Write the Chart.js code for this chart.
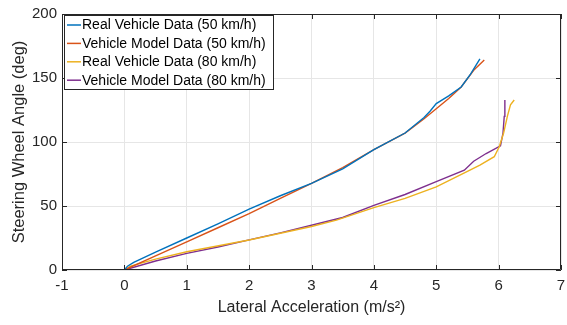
<!DOCTYPE html>
<html><head><meta charset="utf-8">
<script src="https://cdn.jsdelivr.net/npm/chart.js@4/dist/chart.umd.min.js"></script>
<style>html,body{margin:0;padding:0;background:#fff}#wrap{width:567px;height:325px}</style>
</head><body><div id="wrap"><canvas id="c" width="567" height="325"></canvas></div>
<script>
const seriesNames = ["Real Vehicle Data (50 km/h)","Vehicle Model Data (50 km/h)","Real Vehicle Data (80 km/h)","Vehicle Model Data (80 km/h)"];
const seriesColors = ["#0072BD","#D95319","#EDB120","#7E2F8E"];
const real50X = [0,0.05,0.15,0.5,1,1.5,2,2.5,3,3.5,4,4.5,4.8,4.9,5.0,5.2,5.4,5.55,5.7];
const real50Y = [0,3,6,14,25,36,47.5,58,67.7,79,94,107,119,124,130,136,143,153,165];
const model50X = [0,0.5,1,1.5,2,2.5,3,3.5,4,4.5,4.8,5.0,5.2,5.4,5.6,5.77];
const model50Y = [0,11,22,33,44,56,67.7,80,94,107,118,126,134,143,156,164];
const real80X = [0,0.1,0.5,1,2,3,3.4,4,4.5,5,5.5,5.7,5.93,6.01,6.08,6.14,6.19,6.25];
const real80Y = [0,3,8.5,14.3,23.4,34,39,48.7,56,65,77,82,88.5,96.3,107,120,129,132.8];
const model80X = [0,0.5,1,1.5,2,2.5,3,3.5,4,4.5,5,5.45,5.6,5.8,6.03,6.07,6.09,6.1];
const model80Y = [0,7,13,18,23.5,29,35,41,50.5,59,69,78,85,91,97,107,120,132.8];
const xTicks = [-1,0,1,2,3,4,5,6,7];
const yTicks = [0,50,100,150,200];
const xTitle = "Lateral Acceleration (m/s²)";
const yTitle = "Steering Wheel Angle (deg)";

const pts = (xs, ys) => xs.map((x, i) => ({x, y: ys[i]}));
const allX = [real50X, model50X, real80X, model80X];
const allY = [real50Y, model50Y, real80Y, model80Y];
const datasets = seriesNames.map((n, i) => ({
  label: n, data: pts(allX[i], allY[i]), borderColor: seriesColors[i], backgroundColor: seriesColors[i],
  borderWidth: 1.4, pointRadius: 0, showLine: true, tension: 0, fill: false
}));

const FONT = "'Liberation Sans', Arial, sans-serif";
const AX = "#262626";

const boxPlugin = {
  id: 'box',
  afterDatasetsDraw(chart) {
    const {ctx, chartArea: a, scales} = chart;
    ctx.save();
    ctx.strokeStyle = AX; ctx.lineWidth = 1;
    ctx.beginPath();
    ctx.rect(a.left + 0.5, a.top + 0.5, a.right - a.left - 1, a.bottom - a.top - 1);
    ctx.stroke();
    const tl = 5;
    ctx.beginPath();
    xTicks.forEach(v => { const px = Math.round(scales.x.getPixelForValue(v)) + 0.5;
      ctx.moveTo(px, a.bottom); ctx.lineTo(px, a.bottom - tl);
      ctx.moveTo(px, a.top); ctx.lineTo(px, a.top + tl); });
    yTicks.forEach(v => { const py = Math.round(scales.y.getPixelForValue(v)) + 0.5;
      ctx.moveTo(a.left, py); ctx.lineTo(a.left + tl, py);
      ctx.moveTo(a.right, py); ctx.lineTo(a.right - tl, py); });
    ctx.stroke();
    // legend
    const lx = a.left + 2, ly = a.top + 1, lw = 210, lh = 75;
    ctx.fillStyle = "#fff"; ctx.fillRect(lx, ly, lw, lh);
    ctx.strokeStyle = AX; ctx.strokeRect(lx + 0.5, ly + 0.5, lw - 1, lh - 1);
    ctx.font = "14px " + FONT; ctx.textBaseline = "middle"; ctx.textAlign = "left";
    seriesNames.forEach((n, i) => {
      const y = ly + 10 + i * 18.4;
      ctx.strokeStyle = seriesColors[i]; ctx.lineWidth = 1.5;
      ctx.beginPath(); ctx.moveTo(lx + 3, y); ctx.lineTo(lx + 17, y); ctx.stroke();
      ctx.fillStyle = "#000"; ctx.fillText(n, lx + 18, y + 0.5);
    });
    ctx.restore();
  }
};

new Chart(document.getElementById('c'), {
  type: 'scatter',
  data: { datasets },
  options: {
    responsive: false, animation: false, devicePixelRatio: 1,
    layout: { padding: { top: 14, right: 6, left: 0, bottom: 0 } },
    plugins: { legend: { display: false }, tooltip: { enabled: false } },
    scales: {
      x: {
        type: 'linear', min: -1, max: 7,
        afterBuildTicks: s => { s.ticks = xTicks.map(v => ({value: v})); },
        afterFit: s => { s.height = 55; s.paddingLeft = 0; s.paddingRight = 0; },
        ticks: { color: AX, font: { family: FONT, size: 15 }, padding: 7, callback: v => String(v) },
        grid: { color: "#e6e6e6", lineWidth: 1, drawTicks: false },
        border: { display: false },
        title: { display: true, text: xTitle, color: AX, font: { family: FONT, size: 16 }, padding: { top: 0, bottom: 8 } }
      },
      y: {
        type: 'linear', min: 0, max: 200,
        afterBuildTicks: s => { s.ticks = yTicks.map(v => ({value: v})); },
        afterFit: s => { s.width = 62; s.paddingTop = 0; s.paddingBottom = 0; },
        ticks: { color: AX, font: { family: FONT, size: 15 }, padding: 5, callback: v => String(v) },
        grid: { color: "#e6e6e6", lineWidth: 1, drawTicks: false },
        border: { display: false },
        title: { display: true, text: yTitle, color: AX, font: { family: FONT, size: 16.5 }, padding: { top: 10, bottom: 0 } }
      }
    }
  },
  plugins: [boxPlugin]
});
</script></body></html>
